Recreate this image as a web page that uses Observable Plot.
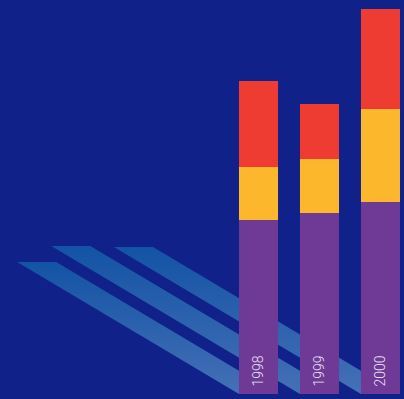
<!DOCTYPE html>
<html>
<head>
<meta charset="utf-8">
<script src="https://cdn.jsdelivr.net/npm/d3@7"></script>
<script src="https://cdn.jsdelivr.net/npm/@observablehq/plot@0.6"></script>
<style>
  html, body { margin: 0; padding: 0; background: #10218a; }
  #chart { width: 404px; height: 399px; overflow: hidden; }
</style>
</head>
<body>
<div id="chart"></div>
<script>
// ---- data ----
const years = [1998, 1999, 2000];
const seriesNames = ["A", "B", "C"];            // bottom → top
const seriesA = [174, 181, 192];                // purple
const seriesB = [53, 54, 93];                   // yellow
const seriesC = [86, 55, 100];                  // red
const shadowLength = [132, 148, 147];           // shadow reach (y units)
const colors = ["#6f3996", "#fdb72c", "#ef3c33"];

// ---- build stacked table ----
const seriesValues = [seriesA, seriesB, seriesC];
const rects = [];
years.forEach((yr, i) => {
  let base = 0;
  seriesValues.forEach((vals, s) => {
    rects.push({year: yr, series: seriesNames[s], y1: base, y2: base + vals[i]});
    base += vals[i];
  });
});

const half = 0.32;           // half bar width in years
const slope = 0.595 * 61;    // shadow slope (y units per year)
const shadows = [];
years.forEach((yr, i) => {
  const L = shadowLength[i];
  shadows.push({year: yr, y: 0, x1: yr - half, x2: yr + half});
  shadows.push({year: yr, y: L, x1: yr - half - L / slope, x2: yr + half - L / slope});
});

const chart = Plot.plot({
  width: 404,
  height: 399,
  marginTop: 0,
  marginBottom: 5,
  marginLeft: 0,
  marginRight: 0,
  style: {background: "#10218a", overflow: "visible"},
  x: {type: "linear", domain: [1998 - 258.5 / 61, 2000 + 23.5 / 61], axis: null},
  y: {domain: [0, 394], axis: null},
  color: {domain: seriesNames, range: colors},
  marks: [
    Plot.areaX(shadows, {y: "y", x1: "x1", x2: "x2", z: "year", fill: "url(#shadowGrad)"}),
    Plot.rectY(rects, {x1: d => d.year - half, x2: d => d.year + half, y1: "y1", y2: "y2", fill: "series"}),
    Plot.text(years, {
      x: d => d, y: 0, text: d => String(d), rotate: -90, textAnchor: "start",
      dy: -8, fill: "#e8e0f2", fontSize: 14, fontWeight: 300, fontFamily: "Roboto, sans-serif"
    })
  ]
});

const svg = d3.select(chart);
const defs = svg.insert("defs", ":first-child");
const grad = defs.append("linearGradient").attr("id", "shadowGrad")
  .attr("x1", 0).attr("y1", 0).attr("x2", 0).attr("y2", 1);
grad.append("stop").attr("offset", "0%").attr("stop-color", "#1353a5");
grad.append("stop").attr("offset", "100%").attr("stop-color", "#4570b6");

document.getElementById("chart").appendChild(chart);
</script>
</body>
</html>
